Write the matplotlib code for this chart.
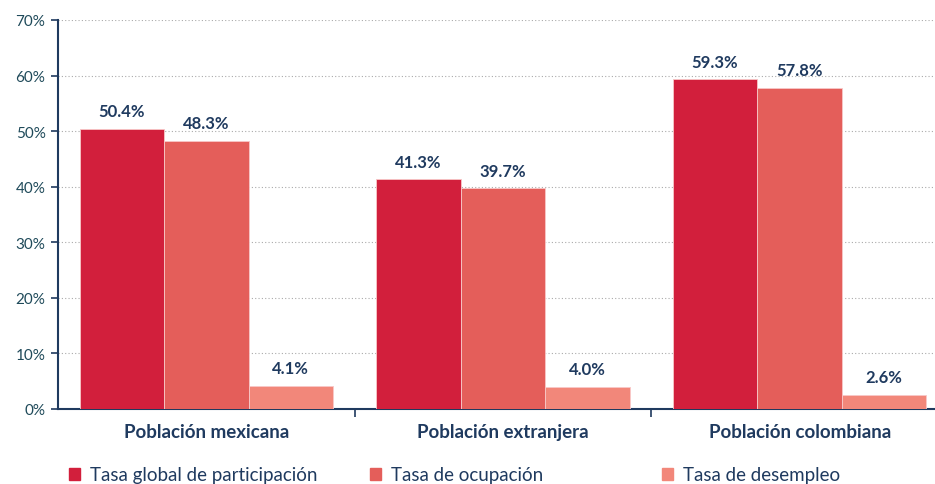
import numpy as np
import matplotlib.pyplot as plt
from matplotlib.patches import Patch

plt.rcParams['font.family'] = ['Lato', 'DejaVu Sans']

categorias = ['Población mexicana', 'Población extranjera', 'Población colombiana']
series = ['Tasa global de participación', 'Tasa de ocupación', 'Tasa de desempleo']
participacion = [50.4, 41.3, 59.3]
ocupacion = [48.3, 39.7, 57.8]
desempleo = [4.1, 4.0, 2.6]
colores = ['#D21F3C', '#E45E5A', '#F2877A']
azul = '#1F3A5F'

fig = plt.figure(figsize=(9.35, 4.85), dpi=100)
ax = fig.add_axes([58 / 935, 75 / 485, 890 / 935, 389 / 485])

x = np.arange(len(categorias))
ancho = 0.285
valores = [participacion, ocupacion, desempleo]
for i, (vals, col) in enumerate(zip(valores, colores)):
    pos = x + (i - 1) * ancho
    ax.bar(pos, vals, width=ancho, color=col, edgecolor='#F8C8C8', linewidth=0.6, zorder=3)
    for xp, v in zip(pos, vals):
        ax.annotate(f'{v:.1f}%', (xp, v), xytext=(0, 7), textcoords='offset points',
                    ha='center', va='bottom', fontsize=12, fontweight='bold', color=azul)

ax.set_xlim(-0.5, 2.5)
ax.set_ylim(0, 70)
ax.set_yticks(range(0, 71, 10))
ax.set_yticklabels([f'{t}%' for t in range(0, 71, 10)], fontsize=11, color='#1F4A5A')
ax.yaxis.grid(True, linestyle=(0, (1, 2)), color='#AAAAAA', linewidth=0.8, zorder=0)

ax.set_xticks(x)
ax.set_xticklabels(categorias, fontsize=13.5, fontweight='bold', color=azul)
ax.tick_params(axis='x', length=0, pad=10)
ax.set_xticks([0.5, 1.5], minor=True)
ax.tick_params(axis='x', which='minor', length=6, color=azul, width=1.2, direction='out')
ax.tick_params(axis='y', length=5, color=azul, width=1.2, pad=4)

for s in ['top', 'right']:
    ax.spines[s].set_visible(False)
for s in ['left', 'bottom']:
    ax.spines[s].set_color(azul)
    ax.spines[s].set_linewidth(1.5)

# leyenda en tres bloques, como en el original
pos_leyenda = [69 / 935, 370 / 935, 662 / 935]
for nombre, col, px in zip(series, colores, pos_leyenda):
    fig.legend(handles=[Patch(color=col)], labels=[nombre], loc='center left',
               bbox_to_anchor=(px, 9 / 485), frameon=False, fontsize=13.5,
               handlelength=0.6, handleheight=0.6, handletextpad=0.5,
               borderpad=0, borderaxespad=0, labelcolor=azul)

fig.savefig('out.png', dpi=100)
